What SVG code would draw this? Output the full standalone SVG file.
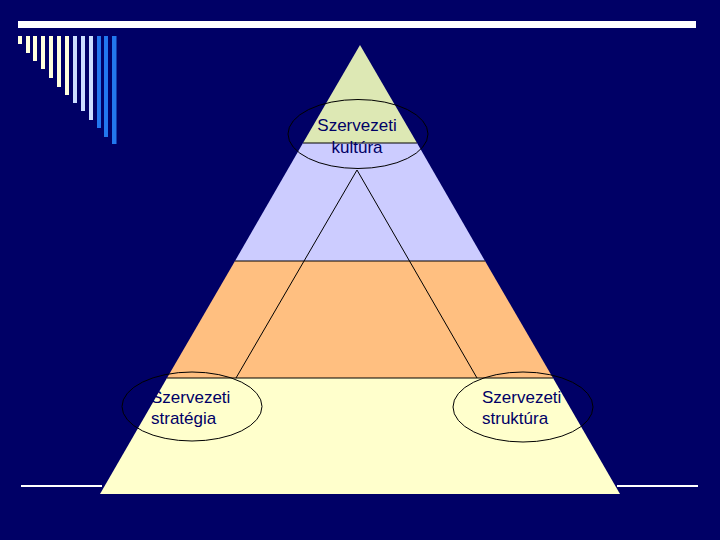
<svg xmlns="http://www.w3.org/2000/svg" width="720" height="540" viewBox="0 0 720 540">
<style>
.lbl{font-family:"Liberation Sans",Arial,sans-serif;font-size:17px;fill:#000066}
.ell{fill:none;stroke:#000;stroke-width:1}
.ln{stroke:#000;stroke-width:1;fill:none}
.y{fill:#FFFFDD}.lb{fill:#CCDDFF}.b{fill:#2277EE}
.wl{fill:#FFFFFF}
</style>
<rect width="720" height="540" fill="#000066"/>
<g id="decoration">
<rect class="wl" x="18" y="21" width="678" height="7"/>
<rect class="y" x="18" y="36" width="4" height="8"/>
<rect class="y" x="26" y="36" width="4" height="17"/>
<rect class="y" x="33" y="36" width="4" height="25"/>
<rect class="y" x="41" y="36" width="4" height="33"/>
<rect class="y" x="49" y="36" width="4" height="42"/>
<rect class="y" x="57" y="36" width="4" height="51"/>
<rect class="y" x="65" y="36" width="4" height="59"/>
<rect class="lb" x="73" y="36" width="4" height="67"/>
<rect class="lb" x="81" y="36" width="4" height="75"/>
<rect class="lb" x="89" y="36" width="4" height="84"/>
<rect class="b" x="97" y="36" width="4" height="92"/>
<rect class="b" x="104" y="36" width="4" height="101"/>
<rect class="b" x="112" y="36" width="4.5" height="108"/>
<rect class="wl" x="21" y="485" width="81" height="2"/>
<rect class="wl" x="617" y="485" width="81" height="2"/>
</g>
<g id="pyramid">
<polygon points="360,45 417,143 303,143" fill="#DDE8B4"/>
<polygon points="303,143 417,143 485,261 235,261" fill="#CCCCFF"/>
<polygon points="235,261 485,261 553,378 167,378" fill="#FFBF80"/>
<polygon points="167,378 553,378 620,494 100,494" fill="#FFFFCC"/>
<line class="ln" x1="303" y1="143" x2="417" y2="143"/>
<line class="ln" x1="235" y1="261" x2="485" y2="261"/>
<line class="ln" x1="167" y1="378" x2="553" y2="378" stroke-width="2"/>
</g>
<g id="connectors">
<polyline class="ln" points="236,378 357,170 477,378"/>
</g>
<g id="node-kultura">
<ellipse class="ell" cx="358" cy="134" rx="70" ry="34.5"/>
<text class="lbl" x="357" y="131" text-anchor="middle">Szervezeti</text>
<text class="lbl" x="357" y="152.5" text-anchor="middle">kultúra</text>
</g>
<g id="node-strategia">
<ellipse class="ell" cx="192" cy="406.5" rx="70" ry="34.5"/>
<text class="lbl" x="151" y="403">Szervezeti</text>
<text class="lbl" x="151" y="424">stratégia</text>
</g>
<g id="node-struktura">
<ellipse class="ell" cx="523" cy="407" rx="70" ry="35"/>
<text class="lbl" x="482" y="403">Szervezeti</text>
<text class="lbl" x="482" y="424">struktúra</text>
</g>
</svg>
